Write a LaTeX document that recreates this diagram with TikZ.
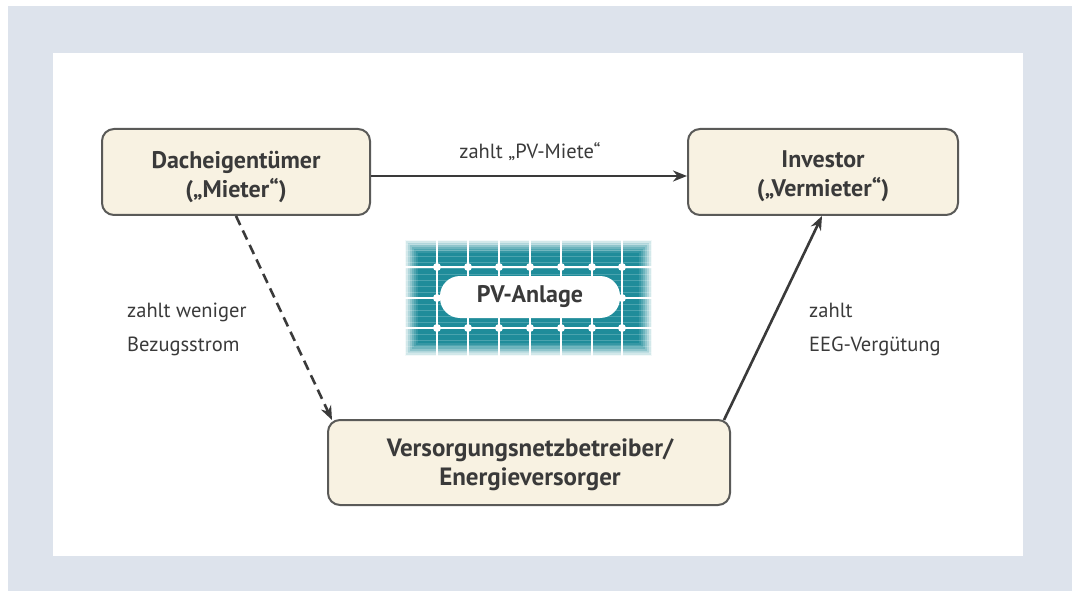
\documentclass[tikz,border=0pt]{standalone}
\usepackage{fontspec}
\setmainfont{PT Sans}
\usetikzlibrary{arrows.meta}
\definecolor{framebg}{HTML}{DDE3EC}
\definecolor{boxfill}{HTML}{F8F2E2}
\definecolor{boxline}{HTML}{5A5A58}
\definecolor{ink}{HTML}{3A3A3A}
\definecolor{teal}{HTML}{1F8C9A}
\definecolor{tealstripe}{HTML}{4AA3AE}
\tikzset{
  party/.style={draw=boxline, line width=2pt, fill=boxfill, rounded corners=12pt, inner sep=0pt},
  partytext/.style={align=center, text=ink, font=\fontsize{24}{29}\selectfont\bfseries, inner sep=0pt},
  flow/.style={draw=ink, line width=2.6pt, -{Stealth[length=14pt,width=11pt]}},
  lbl/.style={text=ink, font=\fontsize{20.5}{34}\selectfont, inner sep=0pt},
}
\begin{document}
\begin{tikzpicture}[x=1pt,y=-1pt]
\useasboundingbox (0,0) rectangle (1072,591);
\fill[white] (0,0) rectangle (1072,591);
\fill[framebg] (8,6) rectangle (1072,591);
\fill[white] (53,53) rectangle (1023,556);

% solar panel with soft edges
\begin{scope}
  \fill[teal] (405,240) rectangle (652,356);
  \foreach \y in {244,250,...,354} \draw[tealstripe, line width=0.8pt] (405,\y) -- (652,\y);
  \foreach \x in {437,468,499,530,561,592,622} \draw[white, line width=1.4pt] (\x,240) -- (\x,356);
  \foreach \y in {267,298,328} \draw[white, line width=1.6pt] (405,\y) -- (652,\y);
  \foreach \x in {437,468,499,530,561,592,622}
    \foreach \y in {267,298,328} \fill[white] (\x,\y) circle (4pt);
  \foreach \i/\o in {0/0.95,2/0.8,4/0.65,6/0.5,8/0.35,10/0.22,12/0.1}
    \draw[white, opacity=\o, line width=2.2pt] (405+\i,240+\i) rectangle (652-\i,356-\i);
\end{scope}
\node[fill=white, rounded corners=20pt, minimum width=180pt, minimum height=42pt,
      text=ink, font=\fontsize{24}{28}\selectfont\bfseries, inner sep=0pt]
  (pv) at (530,297) {PV-Anlage};

% parties
\node[party, minimum width=268pt, minimum height=86pt] (dach) at (236,172) {};
\node[party, minimum width=270pt, minimum height=86pt] (inv) at (823,172) {};
\node[party, minimum width=402pt, minimum height=85pt] (evu) at (529,462.5) {};
\node[partytext] (dachtxt) at (236,177) {Dacheigentümer\\(„Mieter“)};
\node[partytext] (invtxt) at (823,176) {Investor\\(„Vermieter“)};
\node[partytext, font=\fontsize{25}{29}\selectfont\bfseries] (evutxt) at (530,465)
  {Versorgungsnetzbetreiber/\\Energieversorger};

% payment flows
\draw[flow] ([yshift=-4pt]dach.east) -- ([yshift=-4pt]inv.west);
\draw[flow, dash pattern=on 10pt off 6pt] (236,216) -- ([xshift=5pt,yshift=-1pt]evu.north west);
\draw[flow] ([xshift=-7pt,yshift=-1pt]evu.north east) -- (822,216);

\node[lbl, anchor=center] (l1) at (530,152) {zahlt „PV-Miete“};
\node[lbl, anchor=west, align=left] (l2) at (127,329) {zahlt weniger\\Bezugsstrom};
\node[lbl, anchor=west, align=left] (l3) at (809,329) {zahlt\\EEG-Vergütung};
\end{tikzpicture}
\end{document}
